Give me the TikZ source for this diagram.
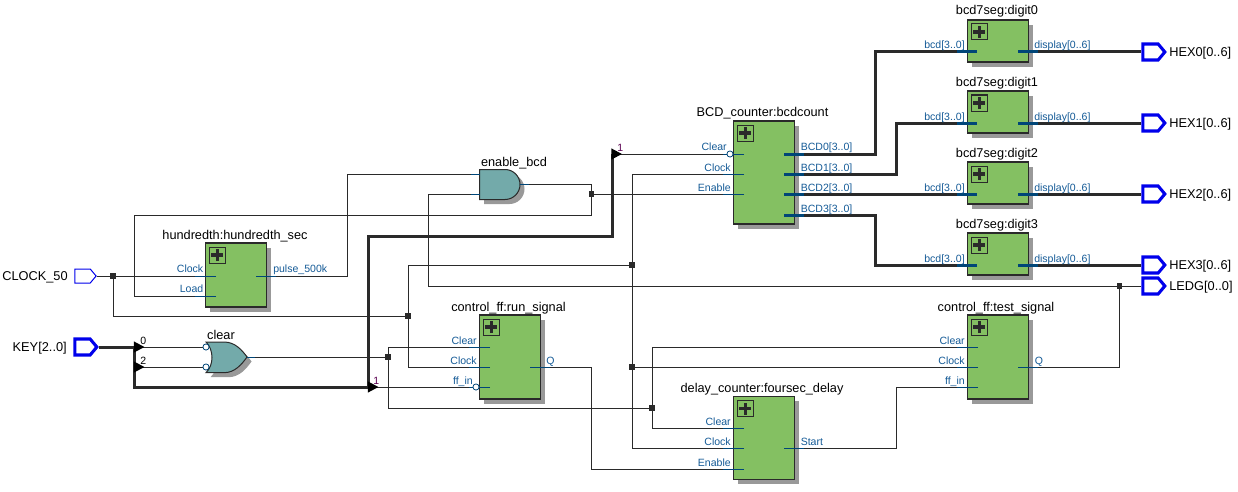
\documentclass[tikz,border=0pt]{standalone}
\usepackage{fontspec}
\setmainfont{Liberation Sans}
\usetikzlibrary{shapes.geometric,shapes.symbols,shadows}
\definecolor{blockgreen}{RGB}{132,192,98}
\definecolor{gateteal}{RGB}{115,170,170}
\definecolor{shadowgray}{RGB}{153,153,153}
\definecolor{wiredark}{RGB}{42,42,42}
\definecolor{stubblue}{RGB}{0,70,120}
\definecolor{portblue}{RGB}{20,90,150}
\definecolor{pinblue}{RGB}{0,0,235}
\definecolor{bitpurple}{RGB}{90,0,80}
\tikzstyle{wire} = [line width=0.75pt, color=wiredark]
\tikzstyle{bus} = [line width=2.25pt, color=wiredark]
\tikzstyle{stub} = [line width=0.75pt, color=stubblue]
\tikzstyle{busstub} = [line width=2.25pt, color=stubblue]
\tikzstyle{block} = [draw=wiredark, line width=0.9pt, fill=blockgreen, minimum width=46pt, inner sep=0pt, outer sep=0pt,
  drop shadow={shadow xshift=3.4pt, shadow yshift=-3.4pt, fill=shadowgray, opacity=1}]
\tikzstyle{gate} = [draw=wiredark, line width=0.75pt, fill=gateteal]
\tikzstyle{gateshadow} = [fill=shadowgray]
\tikzstyle{plusbox} = [draw=wiredark, line width=0.75pt, fill=blockgreen, minimum size=12pt, inner sep=0pt, anchor=north west,
  path picture={\draw[line width=2.6pt, color=wiredark] (path picture bounding box.center) +(-4.5pt,0) -- +(4.5pt,0) +(0,-4.5pt) -- +(0,4.5pt);}]
\tikzstyle{junc} = [fill=wiredark, minimum size=3.8pt, inner sep=0pt, outer sep=0pt]
\tikzstyle{bubble} = [circle, draw=stubblue, line width=0.6pt, fill=white, minimum size=4.6pt, inner sep=0pt]
\tikzstyle{tap} = [isosceles triangle, isosceles triangle stretches, fill=black, minimum height=8pt, minimum width=8.5pt, inner sep=0pt, anchor=lower side]
\tikzstyle{pinthin} = [signal, signal to=east, signal pointer angle=100, draw=pinblue, fill=white, line width=0.75pt, minimum width=16pt, minimum height=10.5pt, inner sep=0pt]
\tikzstyle{pinthick} = [pinthin, line width=2.3pt, minimum width=16.5pt, minimum height=12pt]
\tikzstyle{title} = [font=\fontsize{9.55}{11}\selectfont, anchor=base, inner sep=0pt, color=black]
\tikzstyle{pinname} = [font=\fontsize{9.6}{11}\selectfont, inner sep=0pt, color=black]
\tikzstyle{inlabel} = [font=\fontsize{7.9}{9}\selectfont, anchor=base east, inner sep=0pt, color=portblue]
\tikzstyle{outlabel} = [font=\fontsize{7.9}{9}\selectfont, anchor=base west, inner sep=0pt, color=portblue]
\tikzstyle{bit} = [font=\fontsize{7.9}{9}\selectfont, anchor=base west, inner sep=0pt, color=black]

\begin{document}
\begin{tikzpicture}[x=0.75pt, y=-0.75pt]
  \useasboundingbox (0,0) rectangle (1238,492);

  % blocks
  \node (hundredth) at (236,275) [block, minimum height=48pt] {};
  \node (runff) at (510,357) [block, minimum height=63pt] {};
  \node (testff) at (998,357) [block, minimum height=63pt] {};
  \node (delay) at (764,438) [block, minimum height=62pt] {};
  \node (bcdcount) at (764,172.5) [block, minimum height=77.25pt] {};
  \node (digit0) at (998,41) [block, minimum height=31.5pt] {};
  \node (digit1) at (998,112) [block, minimum height=31.5pt] {};
  \node (digit2) at (998,183) [block, minimum height=31.5pt] {};
  \node (digit3) at (998,254) [block, minimum height=31.5pt] {};
  \foreach \b in {hundredth,runff,testff,delay,bcdcount,digit0,digit1,digit2,digit3}
    \node (\b plus) at ([shift={(3.5,3.5)}]\b.north west) [plusbox] {};

  % gates
  \fill [gateshadow, shift={(4.5,4.5)}] (206,342) -- (224,342) .. controls (235,342) and (242,350) .. (247,357)
    .. controls (242,364) and (235,372.7) .. (224,372.7) -- (206,372.7) .. controls (214,365) and (214,350) .. (206,342) -- cycle;
  \draw [gate] (206,342) -- (224,342) .. controls (235,342) and (242,350) .. (247,357)
    .. controls (242,364) and (235,372.7) .. (224,372.7) -- (206,372.7) .. controls (214,365) and (214,350) .. (206,342) -- cycle;
  \fill [gateshadow, shift={(4.5,4.5)}] (479.5,169.5) -- (505,169.5) arc (-90:90:15) -- (479.5,199.5) -- cycle;
  \draw [gate] (479.5,169.5) -- (505,169.5) arc (-90:90:15) -- (479.5,199.5) -- cycle;

  % port ends
  \coordinate (hclock) at (216,276);
  \coordinate (hload) at (216,296);
  \coordinate (hpulse) at (256,276);
  \coordinate (runclear) at (490,347);
  \coordinate (runclock) at (490,367);
  \coordinate (runffin) at (490,387);
  \coordinate (runq) at (530,367);
  \coordinate (testclear) at (978,347);
  \coordinate (testclock) at (978,367);
  \coordinate (testffin) at (978,387);
  \coordinate (testq) at (1018,367);
  \coordinate (dclear) at (744,428);
  \coordinate (dclock) at (744,448);
  \coordinate (denable) at (744,469);
  \coordinate (dstart) at (784,448);
  \coordinate (bclear) at (744,154);
  \coordinate (bclock) at (744,174);
  \coordinate (benable) at (744,194);
  \coordinate (bout0) at (784,154);
  \coordinate (bout1) at (784,174);
  \coordinate (bout2) at (784,194);
  \coordinate (bout3) at (784,215);
  \coordinate (din0) at (977,52);
  \coordinate (din1) at (977,123);
  \coordinate (din2) at (977,194);
  \coordinate (din3) at (977,265);
  \coordinate (dout0) at (1018,52);
  \coordinate (dout1) at (1018,123);
  \coordinate (dout2) at (1018,194);
  \coordinate (dout3) at (1018,265);
  \coordinate (orin0) at (206,347);
  \coordinate (orin1) at (206,367);
  \coordinate (orout) at (247,357);
  \coordinate (andin0) at (479.5,174);
  \coordinate (andin1) at (479.5,194);
  \coordinate (andout) at (520,184);
  \coordinate (keya) at (134.5,347);
  \coordinate (keyb) at (134.5,367);
  \coordinate (keyc) at (368,387);
  \coordinate (keyd) at (612,154);

  % pins
  \node (clockpin) at (82.5,276) [pinthin] {};
  \node (keypin) at (82.5,347) [pinthick] {};
  \node (hex0) at (1150.5,52) [pinthick] {};
  \node (hex1) at (1150.5,123) [pinthick] {};
  \node (hex2) at (1150.5,194) [pinthick] {};
  \node (hex3) at (1150.5,265) [pinthick] {};
  \node (ledg) at (1150.5,286) [pinthick] {};

  % junctions
  \node (jclock) at (113,276) [junc] {};
  \node (jrun) at (408,316) [junc] {};
  \node (jtop) at (632,265) [junc] {};
  \node (jmid) at (632,367) [junc] {};
  \node (jclr) at (388,357) [junc] {};
  \node (jclrb) at (652,408) [junc] {};
  \node (jand) at (591.5,194) [junc] {};
  \node (jledg) at (1119.5,286) [junc] {};

  % thin wires
  \draw [wire] (clockpin.east) -- (hclock);
  \draw [wire] (jclock) |- (jrun);
  \draw [wire] (jrun) |- (runclock);
  \draw [wire] (jrun) |- (jtop);
  \draw [wire] (jtop) |- (bclock);
  \draw [wire] (jtop) |- (dclock);
  \draw [wire] (jmid) -- (testclock);
  \draw [wire] (orout) -- (jclr);
  \draw [wire] (jclr) |- (runclear);
  \draw [wire] (jclr) |- (jclrb);
  \draw [wire] (jclrb) |- (testclear);
  \draw [wire] (jclrb) |- (dclear);
  \draw [wire] (hpulse) -- ++(91.5,0) |- (andin0);
  \draw [wire] (andout) -| (jand);
  \draw [wire] (jand) -- (benable);
  \draw [wire] (jand) -- ++(0,21) -- ++(-457,0) |- (hload);
  \draw [wire] (andin1) -- ++(-51.5,0) |- (ledg.west);
  \draw [wire] (runq) -- ++(61.5,0) |- (denable);
  \draw [wire] (dstart) -- ++(112,0) |- (testffin);
  \draw [wire] (testq) -| (jledg);
  \draw [wire] (keya) -- (orin0);
  \draw [wire] (keyb) -- (orin1);
  \draw [wire] (keyc) -- (runffin);
  \draw [wire] (keyd) -- (bclear);

  % buses
  \draw [bus] (keypin.east) -- (keya) |- (keyc) -- ++(0,-151) -| (keyd);
  \draw [bus] (bout0) -- ++(91,0) |- (din0);
  \draw [bus] (bout1) -- ++(112.5,0) |- (din1);
  \draw [bus] (bout2) -- (din2);
  \draw [bus] (bout3) -- ++(91,0) |- (din3);
  \foreach \i in {0,1,2,3}
    \draw [bus] (dout\i) -- (hex\i.west);

  % port stubs
  \foreach \p in {hclock,hload,runclear,runclock,runffin,testclear,testclock,testffin,dclear,dclock,denable,bclear,bclock,benable}
    \draw [stub] (\p) -- ++(-21,0);
  \foreach \p in {hpulse,runq,testq,dstart}
    \draw [stub] (\p) -- ++(20,0);
  \foreach \p in {bout0,bout1,bout2,bout3,dout0,dout1,dout2,dout3}
    \draw [busstub] (\p) -- ++(20,0);
  \foreach \p in {din0,din1,din2,din3}
    \draw [busstub] (\p) -- ++(-20,0);
  \draw [stub] (andin0) -- ++(-9,0);
  \draw [stub] (andin1) -- ++(-9,0);
  \draw [stub] (andout) -- ++(9,0);
  \draw [stub] (orout) -- ++(8,0);

  % bubbles and taps
  \node (orbub0) at (206,347) [bubble] {};
  \node (orbub1) at (206,367) [bubble] {};
  \node (runbub) at (476,387) [bubble] {};
  \node (bcdbub) at (730,154) [bubble] {};
  \node (tapa) at (133.5,347) [tap] {};
  \node (tapb) at (133.5,367) [tap] {};
  \node (tapc) at (367.5,387) [tap] {};
  \node (tapd) at (611,154) [tap] {};

  % titles
  \node (thundredth) at (235,239) [title] {hundredth:hundredth\_sec};
  \node (tclear) at (221,339) [title] {clear};
  \node (tenable) at (514,166) [title] {enable\_bcd};
  \node (trun) at (508.5,311) [title] {control\_ff:run\_signal};
  \node (ttest) at (996,311) [title] {control\_ff:test\_signal};
  \node (tdelay) at (762,392) [title] {delay\_counter:foursec\_delay};
  \node (tbcd) at (762.5,117) [title] {BCD\_counter:bcdcount};
  \node (tdigit0) at (997,15) [title] {bcd7seg:digit0};
  \node (tdigit1) at (997,86) [title] {bcd7seg:digit1};
  \node (tdigit2) at (997,157) [title] {bcd7seg:digit2};
  \node (tdigit3) at (997,228) [title] {bcd7seg:digit3};

  % pin names
  \node (nclock) at (68,277) [pinname, anchor=east] {CLOCK\_50};
  \node (nkey) at (67,348) [pinname, anchor=east] {KEY[2..0]};
  \node (nhex0) at (1169,53) [pinname, anchor=west] {HEX0[0..6]};
  \node (nhex1) at (1169,124) [pinname, anchor=west] {HEX1[0..6]};
  \node (nhex2) at (1169,195) [pinname, anchor=west] {HEX2[0..6]};
  \node (nhex3) at (1169,266) [pinname, anchor=west] {HEX3[0..6]};
  \node (nledg) at (1169,287) [pinname, anchor=west] {LEDG[0..0]};

  % port names
  \node (lhclock) at (203.5,272) [inlabel] {Clock};
  \node (lhload) at (203.5,292) [inlabel] {Load};
  \node (lhpulse) at (273,272) [outlabel] {pulse\_500k};
  \node (lrclear) at (477,344) [inlabel] {Clear};
  \node (lrclock) at (477,364) [inlabel] {Clock};
  \node (lrffin) at (473,384) [inlabel] {ff\_in};
  \node (lrq) at (546,364) [outlabel] {Q};
  \node (ltclear) at (965,344) [inlabel] {Clear};
  \node (ltclock) at (965,364) [inlabel] {Clock};
  \node (ltffin) at (965,384) [inlabel] {ff\_in};
  \node (ltq) at (1034.5,364) [outlabel] {Q};
  \node (ldclear) at (731,425) [inlabel] {Clear};
  \node (ldclock) at (731,445) [inlabel] {Clock};
  \node (ldenable) at (731,466) [inlabel] {Enable};
  \node (ldstart) at (800.5,445) [outlabel] {Start};
  \node (lbclear) at (727,150) [inlabel] {Clear};
  \node (lbclock) at (731,171) [inlabel] {Clock};
  \node (lbenable) at (731,191) [inlabel] {Enable};
  \node (lbout0) at (800.5,150) [outlabel] {BCD0[3..0]};
  \node (lbout1) at (800.5,171) [outlabel] {BCD1[3..0]};
  \node (lbout2) at (800.5,191) [outlabel] {BCD2[3..0]};
  \node (lbout3) at (800.5,212) [outlabel] {BCD3[3..0]};
  \foreach \i/\y in {0/49,1/120,2/191,3/262} {
    \node (lin\i) at (965,\y) [inlabel] {bcd[3..0]};
    \node (lout\i) at (1034,\y) [outlabel] {display[0..6]};
  }

  % bit numbers
  \node (bita) at (140,344) [bit] {0};
  \node (bitb) at (140,364) [bit] {2};
  \node (bitc) at (373,384) [bit, color=bitpurple] {1};
  \node (bitd) at (617,151) [bit, color=bitpurple] {1};
\end{tikzpicture}
\end{document}
